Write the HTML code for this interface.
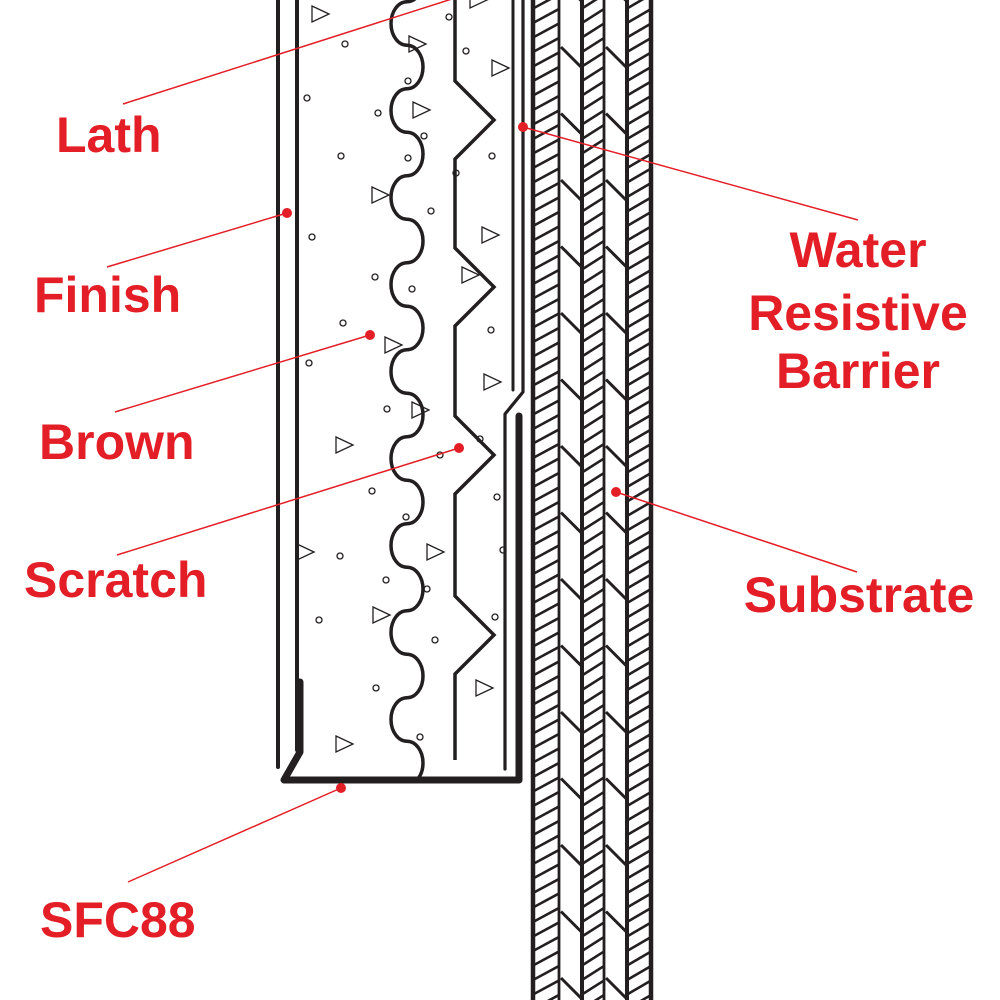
<!DOCTYPE html>
<html><head><meta charset="utf-8">
<style>
html,body{margin:0;padding:0;background:#fff;}
svg{display:block}
.lbl{font-family:"Liberation Sans",sans-serif;font-weight:bold;font-size:50px;fill:#e31e26}
</style></head>
<body>
<svg id="s" width="1000" height="1000" viewBox="0 0 1000 1000" xmlns="http://www.w3.org/2000/svg">
<defs>
<clipPath id="c1"><rect x="535" y="0" width="23" height="1000"/></clipPath>
<clipPath id="c2"><rect x="584" y="0" width="19" height="1000"/></clipPath>
<clipPath id="c3"><rect x="629" y="0" width="21" height="1000"/></clipPath>
<clipPath id="cb"><rect x="300" y="-10" width="200" height="787"/></clipPath>
</defs>
<g id="hatch" stroke="#231f20" stroke-width="2.6" fill="none"></g>
<g stroke="#231f20" fill="none" stroke-linecap="round">
<line x1="533" y1="0" x2="533" y2="1000" stroke-width="4.5"/>
<line x1="559" y1="0" x2="559" y2="1000" stroke-width="2.8"/>
<line x1="582" y1="0" x2="582" y2="1000" stroke-width="4"/>
<line x1="604" y1="0" x2="604" y2="1000" stroke-width="2.8"/>
<line x1="627" y1="0" x2="627" y2="1000" stroke-width="4"/>
<line x1="651" y1="0" x2="651" y2="1000" stroke-width="4.5"/>
<line x1="278" y1="-5" x2="278" y2="767" stroke-width="4"/>
<path d="M297 -5 L297 750" stroke-width="4"/>
<path d="M300 682 L300 752 L284 780 L519 780 L519 416" stroke-width="7" stroke-linejoin="round"/>
<line x1="513" y1="-5" x2="513" y2="390" stroke-width="3"/>
<path d="M523 -5 L523 392 L505 414 L505 769" stroke-width="3.2" stroke-linejoin="round"/>
<path id="scr" d="" stroke-width="3.5" stroke-linejoin="miter" stroke-linecap="butt"/>
<path id="brn" d="" stroke-width="3.5" clip-path="url(#cb)"/>
</g>
<g id="agg" stroke="#231f20" stroke-width="1.3" fill="none"></g>
<g stroke="#e31e26" stroke-width="1.5" fill="#e31e26">
<line x1="123" y1="104" x2="455" y2="-2"/>
<line x1="287" y1="213" x2="107" y2="267"/><circle cx="287" cy="213" r="5" stroke="none"/>
<line x1="370" y1="335" x2="115" y2="412"/><circle cx="370" cy="335" r="5" stroke="none"/>
<line x1="459" y1="448" x2="117" y2="555"/><circle cx="459" cy="448" r="5" stroke="none"/>
<line x1="523" y1="127" x2="858" y2="220"/><circle cx="523" cy="127" r="5" stroke="none"/>
<line x1="616" y1="492" x2="857" y2="572"/><circle cx="616" cy="492" r="5" stroke="none"/>
<line x1="341" y1="788" x2="128" y2="882"/><circle cx="341" cy="788" r="5" stroke="none"/>
</g>
<text class="lbl" x="56" y="152">Lath</text>
<text class="lbl" x="34" y="312">Finish</text>
<text class="lbl" x="39" y="459">Brown</text>
<text class="lbl" x="24" y="597">Scratch</text>
<text class="lbl" x="40" y="937">SFC88</text>
<text class="lbl" x="858" y="267" text-anchor="middle">Water</text>
<text class="lbl" x="858" y="330" text-anchor="middle">Resistive</text>
<text class="lbl" x="858" y="388" text-anchor="middle">Barrier</text>
<text class="lbl" x="859" y="612" text-anchor="middle">Substrate</text>
</svg>
<script>
var NS="http://www.w3.org/2000/svg";
function el(p,t,a){var e=document.createElementNS(NS,t);for(var k in a)e.setAttribute(k,a[k]);p.appendChild(e);return e;}
var h=document.getElementById('hatch');
var strips=[[533,559,'c1'],[582,604,'c2'],[627,651,'c3']];
strips.forEach(function(s){var g=el(h,'g',{'clip-path':'url(#'+s[2]+')'});
for(var y=-20;y<1030;y+=14.5){el(g,'line',{x1:s[0],y1:y+14,x2:s[1],y2:y});}});
for(var y=47-66.5;y<1040;y+=66.5){
 el(h,'line',{x1:561,y1:y,x2:582,y2:y+21,'stroke-width':3});
 el(h,'line',{x1:606,y1:y,x2:627,y2:y+21,'stroke-width':3});
}
var peaks=[120,287,455,635];var d="M455 -5";
peaks.forEach(function(p){d+=" L455 "+(p-39)+" L494 "+p+" L455 "+(p+39);});
d+=" L455 760";document.getElementById('scr').setAttribute('d',d);
var y0=1.75-43.5, b="M407 "+y0, side=0;
for(var k=0;k<22;k++){var y1=y0+43.5; if(y0>800) break;
 b+=" A16 21.75 0 0 "+(side?0:1)+" 407 "+y1; side=1-side; y0=y1;}
document.getElementById('brn').setAttribute('d',b);
var a=document.getElementById('agg');
var tri=[[320,14],[417,44],[500,68],[421,110],[380,195],[490,235],[470,275],[393,345],[492,382],[420,410],[344,445],[435,552],[305,552],[381,615],[484,688],[344,744],[478,0]];
tri.forEach(function(t){var x=t[0]-8,y=t[1];el(a,'path',{d:"M"+x+" "+(y-8)+" L"+(x+17)+" "+y+" L"+x+" "+(y+8)+" Z"});});
var dots=[[345,44],[466,51],[307,98],[378,113],[408,81],[492,156],[341,156],[408,158],[456,173],[431,211],[312,237],[375,277],[412,289],[343,323],[309,363],[491,330],[387,409],[480,439],[440,455],[372,491],[497,497],[406,517],[340,556],[503,550],[386,580],[427,589],[319,620],[435,640],[495,617],[376,688],[420,737],[449,17],[424,136]];
dots.forEach(function(p){el(a,'circle',{cx:p[0],cy:p[1],r:3});});
</script>
</body></html>
